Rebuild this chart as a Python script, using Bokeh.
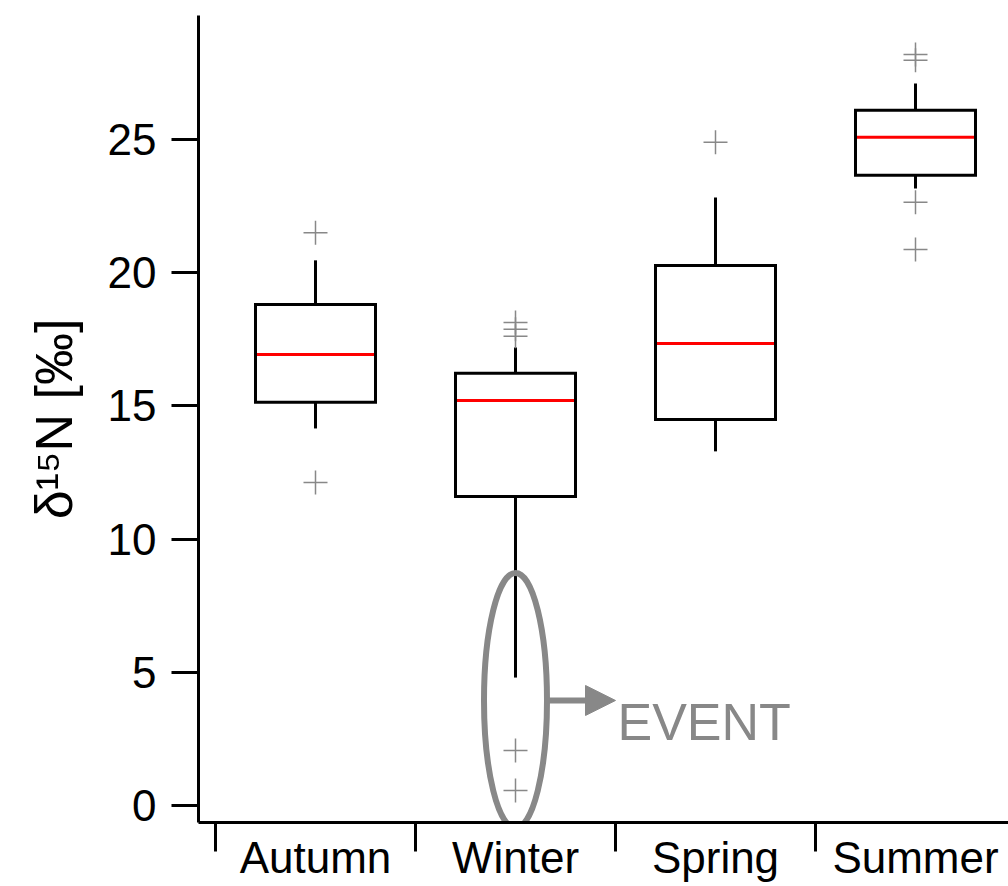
from bokeh.plotting import figure
from bokeh.models import (Range1d, FixedTicker, Label, Arrow, NormalHead, ColumnDataSource)
from bokeh.embed import file_html
from bokeh.resources import INLINE

# ---- data ----
seasons = ["Autumn", "Winter", "Spring", "Summer"]
positions = [1, 2, 3, 4]
whisker_low = [14.15, 4.8, 13.29, 23.16]
q1 = [15.13, 11.6, 14.49, 23.65]
median = [16.93, 15.2, 17.34, 25.08]
q3 = [18.8, 16.22, 20.27, 26.09]
whisker_high = [20.46, 17.19, 22.82, 27.1]
outliers = {
    "Autumn": [21.5, 12.12],
    "Winter": [18.13, 17.87, 17.61, 2.06, 0.56],
    "Spring": [24.89],
    "Summer": [28.19, 27.97, 22.64, 20.87],
}
y_ticks = [0, 5, 10, 15, 20, 25]
y_title = "δ¹⁵N [‰]"
event_label = "EVENT"
event_season = "Winter"
event_center = 3.94
event_span = 9.57

FONT = "Liberation Sans"
GRAY = "#888888"
box_w = 0.6

p = figure(width=1008, height=886, output_backend="svg", toolbar_location=None,
           x_range=Range1d(0.415, 4.465), y_range=Range1d(-0.64, 29.65),
           min_border_left=198, min_border_right=0, min_border_top=15, min_border_bottom=64)
p.outline_line_color = None
p.xgrid.visible = False
p.ygrid.visible = False
p.background_fill_color = "white"
p.border_fill_color = "white"

# y axis
yax = p.yaxis[0]
yax.ticker = FixedTicker(ticks=y_ticks)
yax.axis_line_width = 3
yax.axis_line_color = "black"
yax.major_tick_line_width = 3
yax.major_tick_out = 27
yax.major_tick_in = 0
yax.minor_tick_line_color = None
yax.major_label_text_font = FONT
yax.major_label_text_font_size = "44px"
yax.major_label_text_color = "black"
yax.major_label_standoff = 15
yax.axis_label = y_title
yax.axis_label_text_font = FONT
yax.axis_label_text_font_size = "52px"
yax.axis_label_text_font_style = "normal"
yax.axis_label_text_color = "black"
yax.axis_label_standoff = 22

# x axis: season names at box centres, separator ticks between seasons
xax = p.xaxis[0]
xax.ticker = FixedTicker(ticks=positions, minor_ticks=[pos - 0.5 for pos in positions])
xax.major_label_overrides = {pos: s for pos, s in zip(positions, seasons)}
xax.axis_line_width = 3
xax.axis_line_color = "black"
xax.major_tick_line_color = None
xax.major_tick_out = 0
xax.major_tick_in = 0
xax.minor_tick_line_color = "black"
xax.minor_tick_line_width = 3
xax.minor_tick_out = 29
xax.minor_tick_in = 0
xax.major_label_text_font = FONT
xax.major_label_text_font_size = "44px"
xax.major_label_text_color = "black"
xax.major_label_standoff = -19

src = ColumnDataSource(dict(x=positions, lo=whisker_low, q1=q1, med=median, q3=q3, hi=whisker_high,
                            left=[x - box_w / 2 for x in positions], right=[x + box_w / 2 for x in positions]))

# whiskers
p.segment(x0="x", y0="q3", x1="x", y1="hi", source=src, line_color="black", line_width=3)
p.segment(x0="x", y0="q1", x1="x", y1="lo", source=src, line_color="black", line_width=3)
# box fill, median, box outline
p.vbar(x="x", bottom="q1", top="q3", width=box_w, source=src, fill_color="white", line_color=None)
p.segment(x0="left", y0="med", x1="right", y1="med", source=src, line_color="red", line_width=3)
p.vbar(x="x", bottom="q1", top="q3", width=box_w, source=src, fill_color=None,
       line_color="black", line_width=3, line_join="miter")

# outliers
ox, oy = [], []
for s, pos in zip(seasons, positions):
    for v in outliers[s]:
        ox.append(pos)
        oy.append(v)
p.scatter(ox, oy, marker="cross", size=24, line_color=GRAY, line_width=1.5)

# event annotation
ev_x = positions[seasons.index(event_season)]
p.ellipse(x=[ev_x], y=[event_center], width=[0.315], height=[event_span],
          fill_color=None, line_color=GRAY, line_width=6)
p.add_layout(Arrow(x_start=ev_x + 0.165, y_start=event_center, x_end=ev_x + 0.5, y_end=event_center,
                   line_color=GRAY, line_width=6,
                   end=NormalHead(size=30, fill_color=GRAY, line_color=GRAY, line_width=1)))
p.add_layout(Label(x=ev_x + 0.51, y=3.115, text=event_label, text_font=FONT,
                   text_font_size="52px", text_color=GRAY, text_align="left",
                   text_baseline="alphabetic"))

open("out.html", "w").write(file_html(p, INLINE))
